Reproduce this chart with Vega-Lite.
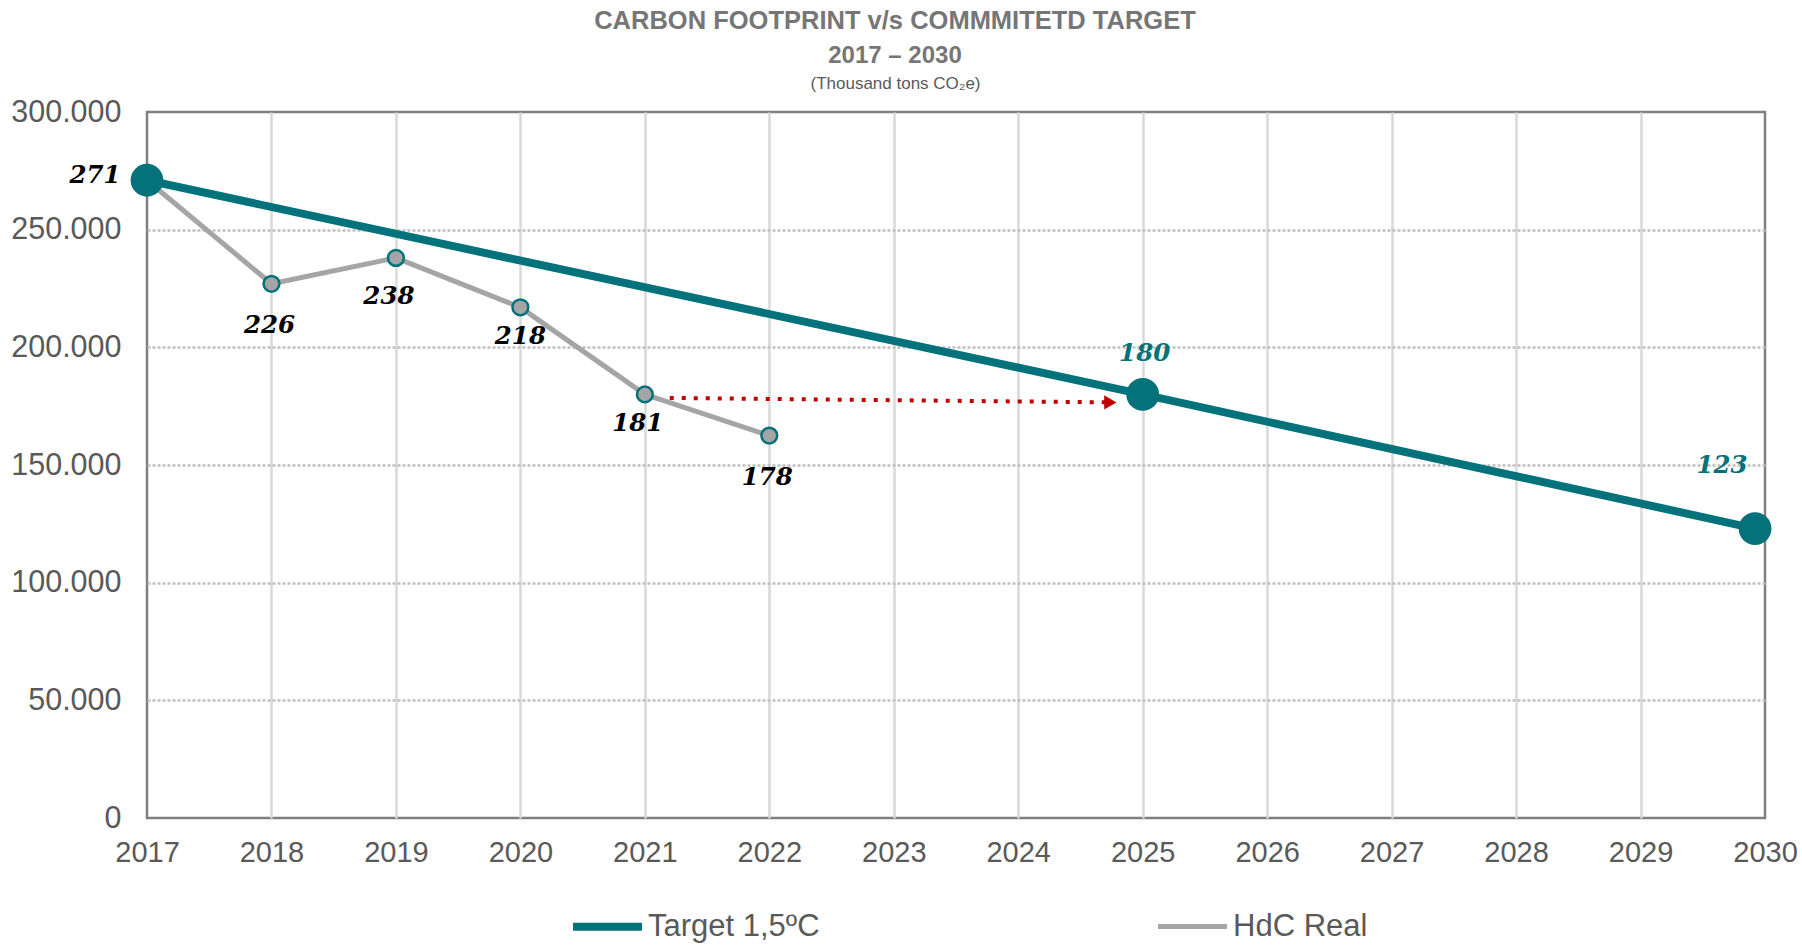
{
  "$schema": "https://vega.github.io/schema/vega-lite/v6.json",
  "width": 1618,
  "height": 706,
  "autosize": {"type": "none"},
  "padding": {"left": 147, "top": 112, "right": 37, "bottom": 128},
  "background": "white",
  "config": {
    "view": {"stroke": "#7F7F7F", "strokeWidth": 2.5},
    "font": "Liberation Sans"
  },
  "title": {
    "text": "CARBON FOOTPRINT v/s COMMMITETD TARGET",
    "subtitle": "2017 – 2030",
    "anchor": "middle",
    "frame": "group",
    "dx": -61,
    "font": "Liberation Sans",
    "fontSize": 25.5,
    "fontWeight": "bold",
    "color": "#767676",
    "subtitleFont": "Liberation Sans",
    "subtitleFontSize": 24,
    "subtitleFontWeight": "bold",
    "subtitleColor": "#767676",
    "subtitlePadding": 10,
    "offset": 6
  },
  "datasets": {
    "target": [
      {"year": 2017, "value": 271000, "label": "271", "series": "Target 1,5ºC"},
      {"year": 2025, "value": 180000, "label": "180", "series": "Target 1,5ºC"},
      {"year": 2029.92, "value": 123000, "label": "123", "series": "Target 1,5ºC"}
    ],
    "real": [
      {"year": 2017, "value": 271000, "label": "271", "series": "HdC Real"},
      {"year": 2018, "value": 227000, "label": "226", "series": "HdC Real"},
      {"year": 2019, "value": 238000, "label": "238", "series": "HdC Real"},
      {"year": 2020, "value": 217000, "label": "218", "series": "HdC Real"},
      {"year": 2021, "value": 180000, "label": "181", "series": "HdC Real"},
      {"year": 2022, "value": 162500, "label": "178", "series": "HdC Real"}
    ],
    "arrow": [
      {"x0": 2021.2, "v0": 178500, "x1": 2024.74, "v1": 176600}
    ]
  },
  "layer": [
    {
      "encoding": {
        "x": {
          "field": "year", "type": "quantitative",
          "scale": {"domain": [2017, 2030], "nice": false, "zero": false},
          "axis": {
            "orient": "bottom",
            "title": null,
            "values": [2017, 2018, 2019, 2020, 2021, 2022, 2023, 2024, 2025, 2026, 2027, 2028, 2029, 2030],
            "format": "d",
            "labelFont": "Liberation Sans",
            "labelFontSize": 29,
            "labelColor": "#595959",
            "labelPadding": 20,
            "ticks": false,
            "domain": false,
            "grid": true,
            "gridColor": "#D9D9D9",
            "gridWidth": 2.5,
            "gridOpacity": {"condition": {"test": "datum.value == 2017 || datum.value == 2030", "value": 0}, "value": 1},
            "labelFlush": false
          }
        },
        "y": {
          "field": "value", "type": "quantitative",
          "scale": {"domain": [0, 300000], "nice": false},
          "axis": {
            "title": null,
            "values": [0, 50000, 100000, 150000, 200000, 250000, 300000],
            "labelExpr": "replace(format(datum.value, ','), ',', '.')",
            "labelFont": "Liberation Sans",
            "labelFontSize": 30.5,
            "labelColor": "#595959",
            "labelPadding": 26,
            "ticks": false,
            "domain": false,
            "grid": true,
            "gridColor": "#BFBFBF",
            "gridWidth": 2.5,
            "gridDash": [3, 2],
            "gridOpacity": {"condition": {"test": "datum.value == 0 || datum.value == 300000", "value": 0}, "value": 1}
          }
        }
      },
      "layer": [
        {
          "data": {"name": "real"},
          "mark": {"type": "line", "strokeJoin": "round"},
          "encoding": {
            "color": {
              "field": "series", "type": "nominal",
              "scale": {"domain": ["Target 1,5ºC", "HdC Real"], "range": ["#04727A", "#A5A5A5"]},
              "legend": {
                "title": null,
                "orient": "none",
                "legendX": 422,
                "legendY": 776,
                "direction": "horizontal",
                "columns": 2,
                "columnPadding": 328,
                "symbolType": "stroke",
                "symbolSize": 4761,
                "labelFont": "Liberation Sans",
                "labelFontSize": 31,
                "labelColor": "#595959",
                "labelOffset": 2,
                "labelLimit": 400,
                "padding": 0
              }
            },
            "strokeWidth": {
              "field": "series", "type": "nominal",
              "scale": {"domain": ["Target 1,5ºC", "HdC Real"], "range": [8, 5]},
              "legend": {
                "title": null,
                "orient": "none",
                "legendX": 422,
                "legendY": 776,
                "direction": "horizontal",
                "columns": 2,
                "columnPadding": 328,
                "symbolType": "stroke",
                "symbolSize": 4761,
                "labelFont": "Liberation Sans",
                "labelFontSize": 31,
                "labelColor": "#595959",
                "labelOffset": 2,
                "labelLimit": 400,
                "padding": 0
              }
            }
          }
        },
        {
          "data": {"name": "target"},
          "mark": {"type": "line"},
          "encoding": {
            "color": {"field": "series", "type": "nominal"},
            "strokeWidth": {"field": "series", "type": "nominal"}
          }
        },
        {
          "data": {"name": "real"},
          "transform": [{"filter": "datum.year > 2017"}],
          "mark": {"type": "point", "filled": true, "fill": "#A5A5A5", "stroke": "#04727A", "strokeWidth": 2.5, "size": 250, "opacity": 1}
        },
        {
          "data": {"name": "target"},
          "mark": {"type": "point", "filled": true, "color": "#04727A", "size": 1075, "opacity": 1}
        },
        {
          "data": {"name": "real"},
          "transform": [{"filter": "datum.year == 2018 || datum.year == 2022"}],
          "mark": {"type": "text", "font": "DejaVu Serif", "fontStyle": "italic", "fontWeight": "bold", "fontSize": 24.5, "color": "#000000", "dx": -2, "dy": 42},
          "encoding": {"text": {"field": "label"}}
        },
        {
          "data": {"name": "real"},
          "transform": [{"filter": "datum.year == 2019"}],
          "mark": {"type": "text", "font": "DejaVu Serif", "fontStyle": "italic", "fontWeight": "bold", "fontSize": 24.5, "color": "#000000", "dx": -7, "dy": 39},
          "encoding": {"text": {"field": "label"}}
        },
        {
          "data": {"name": "real"},
          "transform": [{"filter": "datum.year == 2020"}],
          "mark": {"type": "text", "font": "DejaVu Serif", "fontStyle": "italic", "fontWeight": "bold", "fontSize": 24.5, "color": "#000000", "dy": 30},
          "encoding": {"text": {"field": "label"}}
        },
        {
          "data": {"name": "real"},
          "transform": [{"filter": "datum.year == 2021"}],
          "mark": {"type": "text", "font": "DejaVu Serif", "fontStyle": "italic", "fontWeight": "bold", "fontSize": 24.5, "color": "#000000", "dx": -7, "dy": 30},
          "encoding": {"text": {"field": "label"}}
        },
        {
          "data": {"name": "target"},
          "transform": [{"filter": "datum.year == 2017"}],
          "mark": {"type": "text", "font": "DejaVu Serif", "fontStyle": "italic", "fontWeight": "bold", "fontSize": 24.5, "color": "#000000", "dx": -52, "dy": -4},
          "encoding": {"text": {"field": "label"}}
        },
        {
          "data": {"name": "target"},
          "transform": [{"filter": "datum.year == 2025"}],
          "mark": {"type": "text", "font": "DejaVu Serif", "fontStyle": "italic", "fontWeight": "bold", "fontSize": 24.5, "color": "#04727A", "dx": 2, "dy": -40},
          "encoding": {"text": {"field": "label"}}
        },
        {
          "data": {"name": "target"},
          "transform": [{"filter": "datum.year > 2029"}],
          "mark": {"type": "text", "font": "DejaVu Serif", "fontStyle": "italic", "fontWeight": "bold", "fontSize": 24.5, "color": "#04727A", "dx": -33, "dy": -63},
          "encoding": {"text": {"field": "label"}}
        }
      ]
    },
    {
      "data": {"name": "arrow"},
      "encoding": {
        "x": {
          "field": "x0", "type": "quantitative",
          "scale": {"domain": [2017, 2030], "nice": false, "zero": false},
          "axis": {
            "orient": "top",
            "title": "(Thousand tons CO₂e)",
            "titleFont": "Liberation Sans",
            "titleFontSize": 17,
            "titleFontWeight": "normal",
            "titleColor": "#595959",
            "titleX": 748,
            "titleY": -29,
            "titleAlign": "center",
            "titleBaseline": "middle",
            "labels": false,
            "ticks": false,
            "domain": false,
            "grid": false
          }
        },
        "y": {
          "field": "v0", "type": "quantitative",
          "scale": {"domain": [0, 300000], "nice": false},
          "axis": {
            "title": null,
            "values": [0, 50000, 100000, 150000, 200000, 250000, 300000],
            "labelExpr": "replace(format(datum.value, ','), ',', '.')",
            "labelFont": "Liberation Sans",
            "labelFontSize": 30.5,
            "labelColor": "#595959",
            "labelPadding": 26,
            "ticks": false,
            "domain": false,
            "grid": true,
            "gridColor": "#BFBFBF",
            "gridWidth": 2.5,
            "gridDash": [3, 2],
            "gridOpacity": {"condition": {"test": "datum.value == 0 || datum.value == 300000", "value": 0}, "value": 1}
          }
        }
      },
      "layer": [
        {
          "mark": {"type": "rule", "color": "#C00000", "strokeWidth": 4, "strokeDash": [4, 8]},
          "encoding": {
            "x2": {"field": "x1"},
            "y2": {"field": "v1"}
          }
        },
        {
          "mark": {"type": "point", "shape": "triangle-right", "filled": true, "color": "#C00000", "size": 200, "opacity": 1},
          "encoding": {
            "x": {"field": "x1", "type": "quantitative"},
            "y": {"field": "v1", "type": "quantitative"}
          }
        }
      ]
    }
  ],
  "resolve": {"axis": {"x": "independent"}}
}
